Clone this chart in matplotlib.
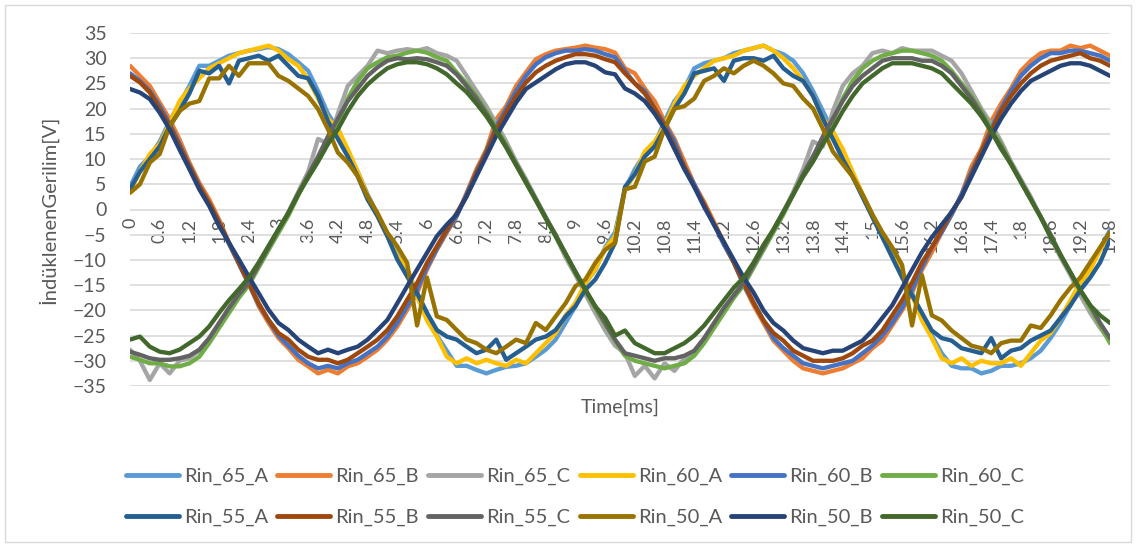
import numpy as np
import matplotlib
matplotlib.use("Agg")
import matplotlib.pyplot as plt
from matplotlib.lines import Line2D
from matplotlib.patches import Rectangle

plt.rcParams['font.family'] = ['Lato', 'DejaVu Sans']

# time axis, 0 .. 19.8 ms every 0.2 ms
time = np.round(np.arange(0, 19.81, 0.2), 1)

rin_65_a = [4.5, 8.5, 10.5, 13.5, 17.5, 21, 24.5, 28.5, 28.5, 29.5, 30.5, 31, 31.5, 31.8, 32.2, 31.8, 30.8, 29.2, 27.5, 23.5,
            19, 16, 11.5, 7.5, 3, -1, -5, -9, -12, -16.5, -20.5, -25, -28, -31, -31, -31.8, -32.5, -31.8, -31.2, -31,
            -30.5, -29.2, -27.8, -25.8, -22.5, -19.2, -14.6, -12, -7.5, -4.5,
            4, 8, 11, 13, 17.5, 21.5, 24, 28, 29, 29.5, 30, 31, 31.5, 32, 32.5, 31.5, 30.8, 29.5, 27, 23.5,
            19.5, 15.5, 11.5, 7, 3, -1, -5.3, -9, -12.5, -16.5, -21, -25, -28.5, -31, -31.5, -31.5, -32.5, -32, -31, -31,
            -30.5, -29.5, -28, -25.5, -22.5, -19, -15, -11.5, -8, -4]
rin_65_b = [28.5, 26.5, 24.5, 21.2, 17.9, 13.9, 9.3, 5.3, 2, -2, -6.6, -10.6, -14.6, -19.2, -22.5, -25.5, -27.5, -29.8, -31.1, -32.5,
            -31.8, -32.5, -31.1, -30.5, -29.2, -27.8, -25.8, -23.2, -19.9, -16.6, -11.9, -8, -4.6, -1.3, 3.3, 8, 11.9, 17.9, 20.5, 24.5,
            27.2, 29.8, 30.8, 31.5, 31.8, 32.1, 32.5, 32.1, 31.8, 31.1,
            28, 27, 24, 21.5, 17.5, 14, 9.5, 5, 1.5, -2.5, -6.5, -10.5, -15, -19, -22.5, -26, -28, -30, -31.5, -32,
            -32.5, -32, -31.5, -30.5, -29.5, -27.5, -26, -23, -20, -16.5, -12, -8.5, -4.5, -1, 3, 8.5, 12, 17.5, 21, 24,
            27.5, 29.5, 31, 31.5, 31.5, 32.5, 32, 32.5, 31.5, 30.5]
rin_65_c = [-27.8, -30, -33.8, -30.5, -32.5, -30, -29.5, -28, -25.8, -23, -20, -17.2, -14.5, -11, -7.5, -4, -0.5, 3.5, 7.5, 14,
            13, 19, 24.5, 26.5, 28.5, 31.5, 31, 31.5, 31.8, 31.5, 32, 31, 30.5, 29.5, 26.5, 23.5, 20.5, 17, 13.5, 9.5,
            6, 2.2, -1.5, -5.3, -9.5, -13, -16.8, -20.5, -24, -27,
            -28.5, -33, -31, -33.5, -30.5, -32, -29.5, -28.5, -26, -23, -20, -17, -14.5, -11, -7.5, -4, -0.5, 3.5, 8, 13.5,
            12.5, 19.5, 24.5, 27, 28.5, 31, 31.5, 31, 32, 31.5, 31.5, 31.5, 30.5, 29.5, 27, 23.5, 20, 17, 13.5, 9.5,
            6, 2.5, -1.5, -5.5, -9.5, -13, -17, -20.5, -23.5, -26]
rin_60_a = [3.5, 7.5, 11, 13, 17, 21.5, 24, 26, 28, 29, 30, 31, 31.5, 32, 32.5, 31.5, 29.8, 28.5, 25.8, 22,
            18, 16, 12, 7.5, 2.6, -1.3, -5.3, -9.3, -11.5, -17.2, -22, -25.2, -29.2, -30.5, -29.5, -30.5, -29.8, -30.5, -31, -29.8,
            -30.5, -28.5, -26.5, -24.5, -21, -18.5, -14.6, -11.9, -7.8, -5.3,
            4, 7, 11.5, 13.5, 16.5, 21, 24.5, 26.5, 28, 29.5, 30, 30.5, 31.5, 32, 32.5, 31.5, 30, 28, 25.5, 22.5,
            18, 15.5, 12, 7.5, 3, -1.5, -5, -9.5, -12, -17, -22, -25.5, -29.5, -30.5, -29.5, -31, -30, -30.5, -30.5, -29.5,
            -31, -28.5, -26, -24.5, -21.5, -18, -14.5, -12, -8, -5]
rin_60_b = [27, 25.5, 23.5, 20.5, 17, 13, 8.8, 4.8, 1.2, -2.5, -6.8, -10.8, -14.8, -18.8, -22, -25, -27, -29, -30.5, -31.5,
            -31, -31.5, -30.5, -29.8, -28.5, -27.2, -25.2, -22.5, -19.2, -15.9, -11.5, -7.8, -4.3, -1.3, 3, 7.5, 11.5, 16.5, 19.9, 23.5,
            26.5, 28.8, 30.2, 31, 31.5, 31.5, 31.8, 31.5, 30.8, 30.2,
            27.5, 25, 23.5, 20, 17, 13.5, 8.5, 5, 1, -3, -7, -10.5, -15, -18.5, -22, -25.5, -27.5, -29, -30.5, -31,
            -31.5, -31, -30.5, -30, -28.5, -27, -25, -22.5, -19.5, -16, -11.5, -7.5, -4.5, -1, 3, 7.5, 11.5, 16, 20, 23.5,
            26.5, 28.5, 30, 31, 31, 31.5, 31.5, 31, 30.5, 29.5]
rin_60_c = [-29.2, -29.8, -30.5, -30.5, -31.1, -31.1, -30.5, -29.2, -26.5, -23.5, -20.5, -17.5, -15, -11.5, -8, -4.6, -1.2, 2.8, 6.8, 10,
            14, 17, 22, 25.5, 28, 29.2, 30.2, 30.5, 31.1, 31.5, 31.1, 30.2, 29.5, 27.2, 25, 22.5, 19.5, 16.2, 12.8, 9.2,
            5.6, 2, -1.6, -5.2, -8.8, -12.5, -16, -19.5, -22.8, -26,
            -29, -30, -30.5, -31, -31.5, -31, -30.5, -29, -26.5, -23.5, -20.5, -17.5, -15, -11.5, -8, -4.5, -1, 3, 7, 10.5,
            14, 17.5, 22, 25.5, 28, 29.5, 30.5, 31, 31.5, 31.5, 31, 30.5, 29.5, 27.5, 25, 22.5, 19.5, 16, 13, 9,
            5.5, 2, -1.5, -5, -9, -12.5, -16, -19.5, -23, -26.5]
rin_55_a = [4, 7.5, 10, 12.5, 16.5, 19.5, 23, 27.5, 27, 28.5, 25, 29.5, 30, 30.5, 29.5, 30.5, 28.5, 26.5, 26, 22.5,
            17.5, 14, 10.5, 6.6, 2, -1.3, -5.3, -9.9, -13.3, -16.6, -20.5, -23.9, -25.2, -25.8, -27.2, -28.5, -27.8, -25.8, -29.8, -28.5,
            -27.2, -25.8, -25.2, -23.9, -21.2, -19.2, -15.9, -13.9, -10.6, -6.6,
            4.5, 7, 10.5, 12.5, 16, 20, 23, 27, 27.5, 28, 25.5, 29.5, 30, 30, 29.5, 30.5, 28, 26.5, 25.5, 22.5,
            18, 14, 10, 6.5, 2.5, -1.5, -5.5, -9.5, -13.5, -17, -20.5, -24, -25.5, -26, -27.5, -28, -28.5, -25.5, -29.5, -28,
            -27.5, -26, -25, -24, -21.5, -19, -16, -13.5, -10.5, -6]
rin_55_b = [26.5, 25.2, 23.2, 19.9, 16.6, 12.6, 8.6, 4.6, 1.3, -2.6, -6.6, -10.6, -14.6, -18.6, -21.9, -24.5, -25.8, -27.8, -29.2, -29.8,
            -29.8, -30.5, -29.8, -28.5, -27.2, -25.8, -23.9, -21.2, -17.9, -14.6, -10.6, -7.3, -4, -0.7, 2.6, 7.3, 11.3, 15.9, 19.2, 22.5,
            25.2, 27.2, 28.5, 29.5, 30.2, 30.8, 30.8, 30.5, 29.8, 29.2,
            27, 25, 23, 20, 16.5, 12.5, 8.5, 4.5, 1, -3, -6.5, -10.5, -14.5, -18.5, -22, -24.5, -26, -28, -29, -30,
            -30, -30, -29.5, -28.5, -27, -26, -24, -21, -18, -14.5, -10.5, -7.5, -4, -0.5, 2.5, 7, 11.5, 15.5, 19.5, 22.5,
            25, 27, 28.5, 29.5, 30, 30.5, 31, 30, 29.5, 28.5]
rin_55_c = [-28.2, -28.8, -29.5, -29.8, -29.8, -29.5, -29, -27.8, -25.5, -22.5, -19.5, -16.8, -14.5, -11, -7.5, -4, -0.7, 3.2, 6.8, 10.5,
            14.5, 18, 21.5, 24, 26.5, 28.2, 29.5, 30, 29.8, 30, 29.8, 29.2, 28.5, 26.8, 24.5, 22, 19, 15.8, 12.5, 9,
            5.5, 2, -1.6, -5, -8.8, -12.3, -15.9, -19.2, -22.5, -25.8,
            -28.5, -29, -29.5, -30, -29.5, -29.5, -29, -28, -25.5, -22.5, -19.5, -17, -14.5, -11, -7.5, -4, -0.5, 3, 7, 10.5,
            14.5, 18, 21.5, 24.5, 26.5, 28, 29.5, 30, 30, 30, 29.5, 29.5, 28.5, 27, 24.5, 22, 19, 15.5, 12.5, 9,
            5.5, 2, -1.5, -5, -9, -12.5, -16, -19, -22.5, -25.5]
rin_50_a = [3.3, 5, 9.3, 11, 16.5, 19.5, 21, 21.5, 26, 26, 28.5, 26.5, 29, 29, 29, 26.5, 25.5, 24, 22.5, 19.9,
            15.9, 11.3, 9.3, 6.6, 2.6, -0.7, -4.6, -7.3, -10.6, -23, -13.5, -21.2, -21.9, -23.9, -25.8, -26.5, -27.8, -28.5, -27.2, -25.8,
            -26.5, -22.5, -23.9, -21.2, -18.6, -15.2, -13.9, -10.6, -8, -6.6,
            4, 4.5, 9.5, 10.5, 16, 20, 20.5, 22, 25.5, 26.5, 28, 27, 28.5, 29.5, 28.5, 27, 25, 24.5, 22, 20,
            16, 11.5, 9, 6.5, 3, -1, -4.5, -7.5, -11, -23, -13, -21, -22, -24, -25.5, -27, -27.5, -28.5, -26.5, -26,
            -26, -23, -23.5, -21, -18, -15.5, -13.5, -10.5, -7.5, -4.5]
rin_50_b = [23.9, 23.2, 21.9, 19.2, 15.9, 11.9, 8, 4, 0.7, -3.3, -6.6, -9.9, -13.3, -16.6, -19.9, -22.5, -23.9, -25.8, -27.2, -28.5,
            -27.8, -28.5, -27.8, -27.2, -25.8, -23.9, -21.9, -18.6, -15.2, -11.9, -8.6, -5.3, -3, -1, 2.6, 6.6, 10.6, 14.6, 17.9, 21.2,
            23.9, 25.2, 26.5, 27.8, 28.8, 29.2, 29.2, 28.5, 27.2, 26.8,
            24, 23, 21.5, 19, 16, 12, 8, 4.5, 0.5, -3, -6.5, -10, -13.5, -16.5, -20, -22.5, -24, -26, -27.5, -28,
            -28.5, -28, -28, -27, -26, -24, -21.5, -19, -15.5, -12, -8.5, -5.5, -3, -0.5, 2.5, 6.5, 10.5, 14.5, 18, 21,
            23.5, 25.5, 26.5, 27.5, 28.5, 29, 29, 28.5, 27.5, 26.5]
rin_50_c = [-25.8, -25.2, -27.2, -28.2, -28.5, -27.8, -26.5, -25.2, -23.2, -20.5, -18, -15.8, -13.5, -10.5, -7.2, -3.9, -0.7, 3, 6.3, 9.5,
            13, 15.9, 19.5, 22.5, 24.8, 26.5, 28, 28.8, 29.2, 29.2, 28.8, 28, 26.8, 25, 23.3, 21, 18.5, 15.5, 12.3, 8.8,
            5.3, 1.8, -1.8, -5.3, -8.8, -12.5, -15.9, -19.2, -21.5, -25,
            -24, -26.5, -27.5, -28.5, -28.5, -27.5, -26.5, -25, -23, -20.5, -18, -15.5, -13.5, -10.5, -7, -4, -0.5, 3, 6.5, 9.5,
            13, 16, 19.5, 22.5, 25, 26.5, 28, 29, 29, 29, 28.5, 28, 27, 25, 23, 21, 18.5, 15.5, 12, 9,
            5.5, 2, -1.5, -5.5, -9, -12.5, -16, -19, -21, -22.5]

labels = ['Rin_65_A', 'Rin_65_B', 'Rin_65_C', 'Rin_60_A', 'Rin_60_B', 'Rin_60_C',
          'Rin_55_A', 'Rin_55_B', 'Rin_55_C', 'Rin_50_A', 'Rin_50_B', 'Rin_50_C']
series = [rin_65_a, rin_65_b, rin_65_c, rin_60_a, rin_60_b, rin_60_c,
          rin_55_a, rin_55_b, rin_55_c, rin_50_a, rin_50_b, rin_50_c]
colors = ['#5B9BD5', '#ED7D31', '#A5A5A5', '#FFC000', '#4472C4', '#70AD47',
          '#255E91', '#9E480E', '#636363', '#997300', '#264478', '#43682B']

W, H = 1136, 547
fig = plt.figure(figsize=(W / 100, H / 100), dpi=100)
ax = fig.add_axes([130 / W, (H - 386) / H, 980 / W, 353 / H])

for vals, lab, col in zip(series, labels, colors):
    ax.plot(time[:len(vals)], vals, color=col, lw=3.1, label=lab,
            solid_joinstyle='round', solid_capstyle='round')

gray = '#595959'
ax.set_xlim(0, 19.8)
ax.set_ylim(-35, 35)
ax.set_yticks(range(-35, 36, 5))
ax.grid(axis='y', color='#D9D9D9', lw=1.2)
ax.set_axisbelow(True)
for s in ax.spines.values():
    s.set_visible(False)
ax.spines['bottom'].set_position(('data', 0))

xt = np.round(np.arange(0, 19.81, 0.6), 1)
ax.set_xticks(xt)
ax.set_xticklabels([f"{v:g}" for v in xt], rotation=90)
ax.tick_params(axis='x', length=0, pad=6, labelsize=13, labelcolor=gray)
ax.tick_params(axis='y', length=0, pad=17, labelsize=14, labelcolor=gray)

ax.text(0.5, -0.06, 'Time[ms]', transform=ax.transAxes, ha='center', va='center',
        fontsize=14, color=gray)
fig.text(48 / W, 1 - 210 / H, 'İndüklenenGerilim[V]', rotation=90, ha='center', va='center',
         fontsize=14.5, color=gray)

# legend is filled row by row, like Excel
handles = [Line2D([], [], color=c, lw=3.5, solid_capstyle='round') for c in colors]
order = [0, 6, 1, 7, 2, 8, 3, 9, 4, 10, 5, 11]
fig.legend([handles[i] for i in order], [labels[i] for i in order], ncol=6, loc='center',
           bbox_to_anchor=(575 / W, 1 - 497 / H), frameon=False, fontsize=14.5,
           labelcolor=gray, handlelength=2.65, handletextpad=0.25, columnspacing=0.45,
           labelspacing=1.15)

fig.patches.append(Rectangle((5 / W, 5 / H), 1126 / W, 537 / H, transform=fig.transFigure,
                             fill=False, ec='#D9D9D9', lw=1))

fig.savefig('out.png', dpi=100)
